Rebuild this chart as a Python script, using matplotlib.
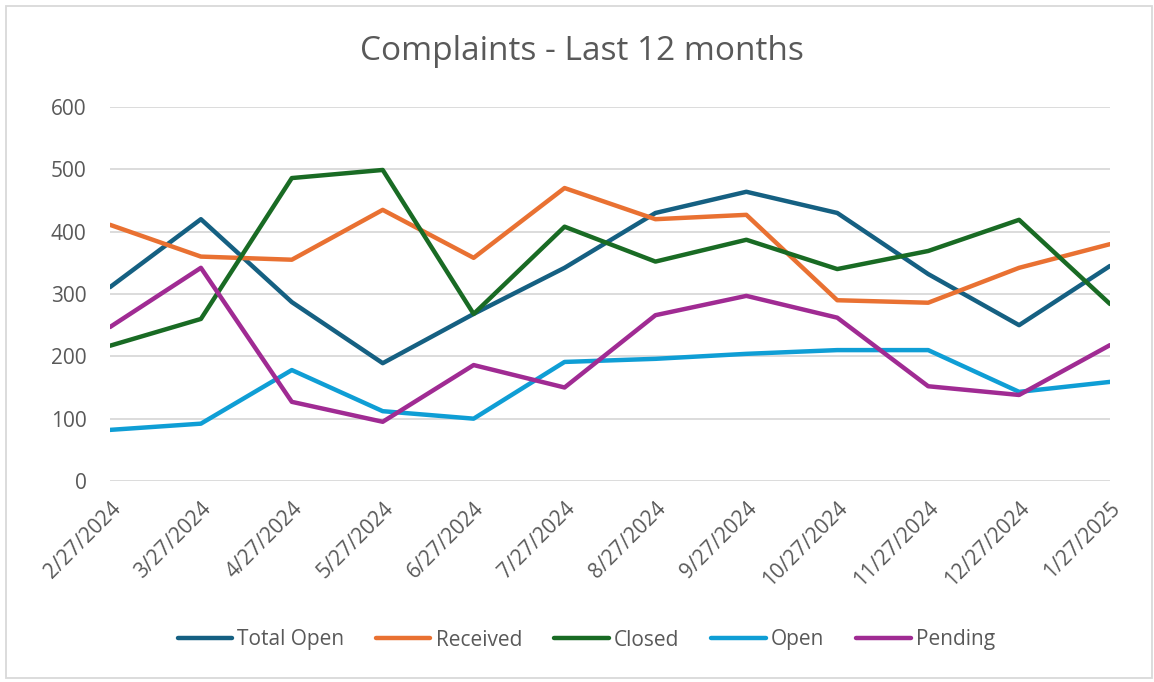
import matplotlib
matplotlib.use("Agg")
import matplotlib.pyplot as plt
from matplotlib.patches import Rectangle

# -------------------------
# DATA
# -------------------------
dates = ["2/27/2024", "3/27/2024", "4/27/2024", "5/27/2024", "6/27/2024", "7/27/2024",
         "8/27/2024", "9/27/2024", "10/27/2024", "11/27/2024", "12/27/2024", "1/27/2025"]

total_open = [311, 420, 287, 189, 268, 342, 430, 464, 430, 332, 250, 345]
received = [411, 360, 355, 435, 358, 470, 420, 427, 290, 286, 342, 380]
closed = [217, 260, 486, 499, 268, 408, 352, 387, 340, 369, 419, 284]
open_ = [82, 92, 178, 112, 100, 191, 196, 204, 210, 210, 143, 159]
pending = [247, 342, 127, 95, 186, 150, 266, 297, 262, 152, 138, 218]

series = [
    ("Total Open", total_open, "#156082"),
    ("Received", received, "#E97132"),
    ("Closed", closed, "#196B24"),
    ("Open", open_, "#0F9ED5"),
    ("Pending", pending, "#A02B93"),
]

TEXT = "#595959"
plt.rcParams["font.family"] = ["Open Sans", "DejaVu Sans"]

# -------------------------
# PLOT
# -------------------------
fig = plt.figure(figsize=(11.54, 6.82), dpi=100)
ax = fig.add_axes([110 / 1154, 1 - 481 / 682, 1000 / 1154, 374 / 682])

x = list(range(len(dates)))
for name, vals, col in series:
    ax.plot(x, vals, color=col, lw=3.2, label=name, solid_capstyle="round", solid_joinstyle="round")

ax.set_xlim(0, len(dates) - 1)
ax.set_ylim(0, 600)
ax.set_yticks(range(0, 601, 100))
ax.grid(axis="y", color="#D9D9D9", lw=1.3)
ax.set_axisbelow(True)
for s in ax.spines.values():
    s.set_visible(False)
ax.tick_params(length=0, labelsize=15, labelcolor=TEXT)
ax.tick_params(axis="y", pad=17)
ax.set_xticks(x)
ax.set_xticklabels(dates, rotation=45, ha="right", rotation_mode="anchor")
ax.tick_params(axis="x", pad=12)

fig.text(0.504, 1 - 51 / 682, "Complaints - Last 12 months", ha="center", va="center",
         fontsize=24, color=TEXT)

fig.legend(loc="center", bbox_to_anchor=(0.508, 1 - 640 / 682), ncol=5, frameon=False,
           fontsize=15, labelcolor=TEXT, handlelength=2.6, handletextpad=0.25, columnspacing=1.55)

fig.patches.append(Rectangle((6 / 1154, 4 / 682), 1146 / 1154, 672 / 682, transform=fig.transFigure,
                             fill=False, edgecolor="#D9D9D9", lw=1.3))

fig.savefig("out.png", dpi=100)
